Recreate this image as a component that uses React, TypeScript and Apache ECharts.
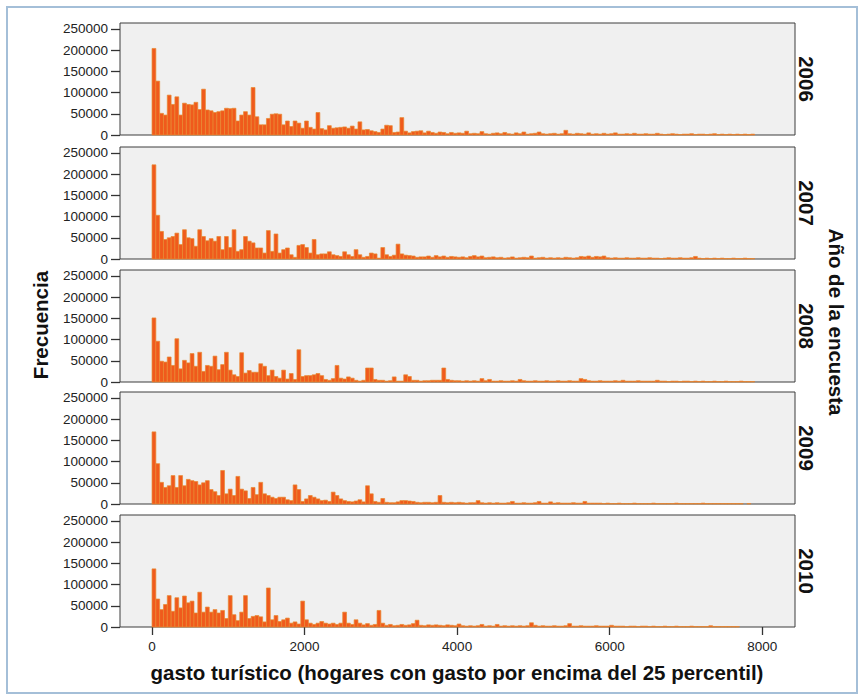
import React, { useEffect, useRef } from 'react';
import * as echarts from 'echarts';

// Histogram bins: width 50 (gasto), starting at 0. Frequencies in thousands.
const binWidth = 50;
const years = ['2006', '2007', '2008', '2009', '2010'];
const yTicks = [0, 50000, 100000, 150000, 200000, 250000];
const xTicks = [0, 2000, 4000, 6000, 8000];
const xTitle = 'gasto turístico (hogares con gasto por encima del 25 percentil)';
const yTitle = 'Frecuencia';
const panelTitle = 'Año de la encuesta';

const frec2006 = [
  204, 127, 51, 47, 94, 72, 90, 47, 75, 72, 71, 77, 60, 108, 59, 57, 53, 55, 57, 63,
  62, 63, 33, 47, 55, 47, 112, 43, 24, 24, 39, 49, 50, 49, 24, 33, 20, 33, 28, 16,
  33, 18, 14, 53, 15, 12, 22, 16, 17, 18, 19, 16, 21, 14, 31, 12, 13, 10, 8, 6,
  14, 23, 22, 6, 7, 41, 9, 5, 8, 9, 10, 5, 9, 6, 4, 7, 6, 3, 6, 4,
  5, 4, 9, 3, 4, 3, 8, 3, 2, 4, 5, 3, 6, 3, 2, 5, 3, 7, 2, 3,
  4, 7, 3, 2, 3, 4, 2, 3, 11, 3, 2, 4, 3, 2, 5, 2, 3, 2, 4, 2,
  3, 5, 2, 2, 3, 2, 4, 2, 2, 3, 2, 2, 4, 2, 1, 2, 3, 2, 1, 2,
  2, 3, 1, 2, 2, 1, 2, 3, 1, 2, 1, 2, 1, 2, 1, 2, 1, 2,
];
const frec2007 = [
  222, 103, 65, 46, 50, 53, 61, 34, 69, 50, 48, 30, 69, 53, 43, 48, 42, 53, 22, 53,
  27, 69, 18, 22, 53, 42, 38, 26, 26, 14, 67, 18, 59, 14, 22, 26, 10, 4, 32, 34,
  27, 14, 46, 10, 12, 12, 17, 10, 8, 6, 17, 10, 6, 22, 10, 4, 6, 14, 12, 2,
  27, 10, 6, 9, 35, 12, 9, 8, 7, 4, 5, 5, 7, 4, 8, 5, 7, 4, 6, 5,
  4, 5, 3, 6, 8, 5, 7, 3, 4, 5, 3, 4, 2, 3, 5, 2, 3, 4, 3, 7,
  2, 3, 4, 2, 3, 2, 3, 2, 4, 3, 2, 3, 6, 5, 7, 4, 6, 5, 7, 3,
  2, 3, 2, 2, 3, 2, 2, 3, 2, 2, 3, 2, 2, 1, 2, 3, 2, 2, 3, 2,
  2, 3, 6, 2, 1, 2, 1, 2, 1, 2, 1, 1, 2, 1, 1, 2, 1, 1,
];
const frec2008 = [
  151, 96, 49, 47, 59, 39, 102, 31, 51, 45, 67, 37, 70, 25, 39, 37, 61, 29, 41, 70,
  28, 17, 13, 69, 21, 27, 23, 23, 43, 37, 15, 28, 13, 9, 28, 7, 20, 6, 76, 13,
  15, 15, 17, 20, 15, 6, 4, 8, 39, 9, 7, 12, 9, 4, 2, 4, 33, 33, 6, 4,
  4, 2, 3, 12, 2, 2, 17, 13, 4, 4, 2, 3, 3, 4, 4, 4, 33, 6, 4, 3,
  3, 2, 3, 2, 3, 2, 8, 3, 6, 2, 2, 3, 2, 2, 3, 2, 6, 3, 2, 2,
  3, 2, 2, 3, 2, 2, 3, 2, 2, 3, 2, 2, 8, 6, 3, 2, 2, 3, 2, 2,
  2, 3, 2, 4, 2, 2, 2, 3, 2, 2, 2, 2, 4, 2, 2, 1, 2, 2, 1, 2,
  2, 1, 2, 1, 2, 1, 1, 2, 1, 1, 2, 1, 1, 1, 2, 1, 1, 1,
];
const frec2009 = [
  170, 95, 51, 39, 43, 67, 39, 67, 43, 58, 55, 53, 45, 50, 55, 34, 29, 20, 79, 24,
  35, 20, 65, 35, 31, 13, 39, 22, 51, 24, 20, 16, 13, 16, 16, 10, 8, 45, 34, 6,
  12, 20, 16, 12, 8, 9, 6, 28, 20, 12, 8, 6, 5, 7, 10, 5, 43, 24, 6, 4,
  13, 4, 3, 3, 5, 8, 8, 7, 6, 4, 3, 4, 4, 3, 4, 20, 4, 3, 4, 3,
  4, 3, 2, 3, 3, 8, 3, 2, 3, 2, 3, 2, 2, 3, 6, 2, 2, 3, 2, 2,
  3, 6, 2, 2, 5, 2, 3, 2, 2, 2, 3, 2, 2, 6, 2, 2, 2, 2, 1, 2,
  1, 1, 2, 1, 1, 1, 2, 1, 1, 1, 1, 2, 1, 1, 1, 1, 1, 2, 1, 1,
  1, 1, 1, 1, 2, 1, 1, 1, 1, 1, 1, 1, 1, 1, 1, 0, 1, 0,
];
const frec2010 = [
  137, 66, 41, 53, 74, 37, 69, 45, 73, 57, 61, 33, 82, 35, 47, 35, 41, 33, 39, 20,
  74, 29, 15, 35, 74, 20, 25, 27, 24, 12, 92, 17, 27, 13, 17, 21, 9, 12, 7, 61,
  17, 9, 6, 9, 13, 9, 7, 9, 6, 9, 35, 9, 6, 17, 9, 5, 8, 4, 6, 39,
  9, 4, 6, 3, 4, 6, 4, 5, 8, 16, 4, 3, 5, 4, 5, 4, 3, 5, 4, 3,
  7, 3, 2, 3, 2, 3, 6, 2, 3, 2, 6, 2, 3, 2, 3, 2, 3, 2, 3, 10,
  4, 2, 3, 2, 2, 3, 2, 2, 3, 8, 2, 2, 3, 2, 2, 2, 3, 2, 2, 2,
  4, 2, 2, 2, 1, 2, 2, 1, 2, 2, 1, 2, 1, 1, 2, 1, 1, 2, 1, 1,
  1, 2, 1, 1, 1, 1, 3, 1, 1, 1, 1, 1, 1, 1, 0, 0, 0, 0,
];
const frecuencias = [frec2006, frec2007, frec2008, frec2009, frec2010];

export default function App() {
  const ref = useRef<HTMLDivElement>(null);
  useEffect(() => {
    if (!ref.current) return;
    const chart = echarts.init(ref.current, null, { renderer: 'svg' });
    const FONT = '"Liberation Sans", Arial, sans-serif';
    const tops = [23, 147, 270, 392, 515];
    const H = 112;
    const L = 120;
    const W = 675;
    const xMin = -420;
    const xMax = 8430;

    const grids = tops.map((t) => ({
      left: L, top: t, width: W, height: H, show: true,
      backgroundColor: '#f0f0f0', borderColor: '#3c3c3c', borderWidth: 1,
    }));
    const xAxes = tops.map((_, i) => {
      const last = i === tops.length - 1;
      return {
        type: 'value', gridIndex: i, min: xMin, max: xMax, position: 'bottom',
        splitLine: { show: false },
        axisLine: { show: false, onZero: false },
        axisTick: last
          ? { show: true, customValues: xTicks, length: 8, lineStyle: { color: '#333', width: 1.3 } }
          : { show: false },
        axisLabel: last
          ? { show: true, customValues: xTicks, margin: 12, fontFamily: FONT, fontSize: 13.5, color: '#222', formatter: (v: number) => String(v) }
          : { show: false },
      };
    });
    const yAxes = tops.map((_, i) => ({
      type: 'value', gridIndex: i, min: 0, max: 264000, position: 'left',
      splitLine: { show: false },
      axisLine: { show: false, onZero: false },
      axisTick: { show: true, customValues: yTicks, length: 9, lineStyle: { color: '#333', width: 1.3 } },
      axisLabel: {
        show: true, customValues: yTicks, margin: 12, fontFamily: FONT, fontSize: 13.5, color: '#222',
        formatter: (v: number) => String(v),
      },
    }));
    const series = frecuencias.map((arr, i) => ({
      type: 'custom', xAxisIndex: i, yAxisIndex: i,
      encode: { x: [0, 1], y: 2 },
      data: arr.map((v, k) => [k * binWidth, (k + 1) * binWidth, v * 1000]),
      renderItem: (params: any, api: any) => {
        const y = api.value(2);
        if (!y) return null;
        const p0 = api.coord([api.value(0), y]);
        const p1 = api.coord([api.value(1), 0]);
        return {
          type: 'rect',
          shape: { x: p0[0], y: p0[1], width: p1[0] - p0[0], height: p1[1] - p0[1] },
          style: { fill: '#f05a1c', stroke: '#e88a30', lineWidth: 0.7 },
        };
      },
    }));

    const graphic: any[] = [
      {
        type: 'rect', shape: { x: 7, y: 7, width: 850, height: 686 },
        style: { fill: 'none', stroke: '#a4bfd8', lineWidth: 2 }, z: -10,
      },
      {
        type: 'text', x: 457, y: 672,
        style: { text: xTitle, fontFamily: FONT, fontSize: 20.5, fontWeight: 'bold', fill: '#111', align: 'center', verticalAlign: 'middle', textAlign: 'center', textVerticalAlign: 'middle' },
      },
      {
        type: 'text', x: 40, y: 325, rotation: Math.PI / 2,
        style: { text: yTitle, fontFamily: FONT, fontSize: 20.5, fontWeight: 'bold', fill: '#111', align: 'center', verticalAlign: 'middle', textAlign: 'center', textVerticalAlign: 'middle' },
      },
      {
        type: 'text', x: 836, y: 322, rotation: -Math.PI / 2,
        style: { text: panelTitle, fontFamily: FONT, fontSize: 20.5, fontWeight: 'bold', fill: '#111', align: 'center', verticalAlign: 'middle', textAlign: 'center', textVerticalAlign: 'middle' },
      },
      ...years.map((yr, i) => ({
        type: 'text', x: 806, y: tops[i] + H / 2, rotation: -Math.PI / 2,
        style: { text: yr, fontFamily: FONT, fontSize: 20.5, fontWeight: 'bold', fill: '#111', align: 'center', verticalAlign: 'middle', textAlign: 'center', textVerticalAlign: 'middle' },
      })),
    ];

    chart.setOption({
      animation: false,
      backgroundColor: '#ffffff',
      grid: grids,
      xAxis: xAxes,
      yAxis: yAxes,
      series,
      graphic,
    });
    return () => chart.dispose();
  }, []);
  return (
    <div
      ref={ref}
      style={{ position: 'fixed', left: 0, top: 0, width: 864, height: 700, background: '#fff' }}
    />
  );
}
